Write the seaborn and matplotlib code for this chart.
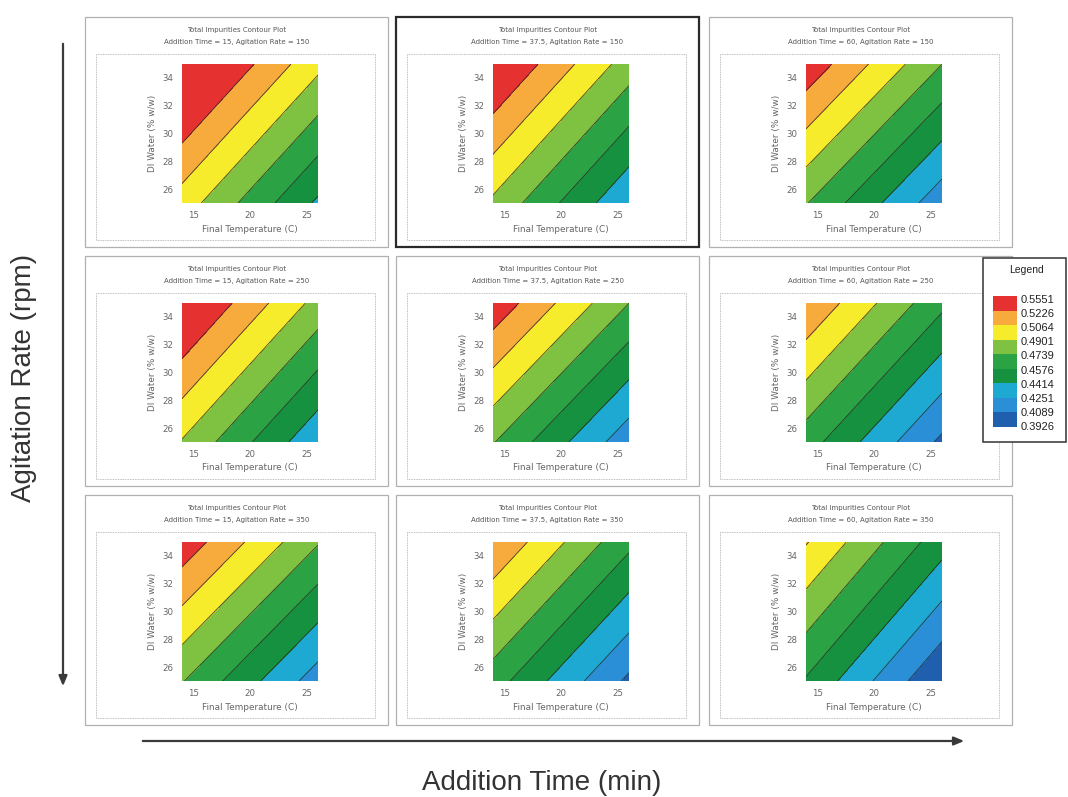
import numpy as np
import matplotlib
matplotlib.use("Agg")
import matplotlib.pyplot as plt
from matplotlib.patches import Rectangle, FancyArrowPatch
import seaborn as sns

# %% data
addition_time = ["15", "37.5", "60"]          # columns
agitation_rate = ["150", "250", "350"]        # rows
temp_edges = [14, 26]                          # Final Temperature (C)
water_edges = [25, 35]                         # DI Water (% w/w)

# predicted total impurities at the four plot corners, row by row
z_bottom_left = [0.4986, 0.4869, 0.4749, 0.4889, 0.4749, 0.4651, 0.4749, 0.4651, 0.4560]
z_bottom_right = [0.4386, 0.4269, 0.4149, 0.4284, 0.4149, 0.4054, 0.4170, 0.4055, 0.3932]
z_top_left = [0.5545, 0.5425, 0.5340, 0.5450, 0.5340, 0.5212, 0.5331, 0.5215, 0.5076]
z_top_right = [0.4945, 0.4825, 0.4740, 0.4845, 0.4740, 0.4615, 0.4752, 0.4619, 0.4485]

levels = [0.3926, 0.4089, 0.4251, 0.4414, 0.4576, 0.4739, 0.4901, 0.5064, 0.5226, 0.5551]
band_colors = ["#1f5fae", "#2a8fd6", "#1ea9d3", "#16913f", "#2ba243",
               "#7fc242", "#f7ec2c", "#f6ab3c", "#e5312f"]

x_ticks = [15, 20, 25]
y_ticks = [26, 28, 30, 32, 34]

# %% layout (pixels)
W, H = 1068, 797
plot_left = [182, 493, 806]
plot_top = [64, 303, 542]
plot_w, plot_h = 136, 139

sns.set_theme(style="white")
plt.rcParams["font.family"] = ["Liberation Sans", "DejaVu Sans"]
palette = sns.color_palette(band_colors)
small = ["DejaVu Sans"]

fig = plt.figure(figsize=(W / 100, H / 100), dpi=100)


def fx(x):
    return x / W


def fy(y):
    return 1 - y / H


def box(x0, y0, x1, y1, **kw):
    r = Rectangle((fx(x0), fy(y1)), (x1 - x0) / W, (y1 - y0) / H,
                  transform=fig.transFigure, **kw)
    fig.add_artist(r)
    return r


X, Y = np.meshgrid(temp_edges, water_edges)

for r in range(3):
    for c in range(3):
        k = r * 3 + c
        L, T = plot_left[c], plot_top[r]
        # outer panel frame
        if k == 1:
            box(L - 97, T - 47, L + 206, T + 183, fill=False, ec="#2a2a2a", lw=1.6)
        else:
            box(L - 97, T - 47, L + 206, T + 183, fill=False, ec="#b0b0b0", lw=0.9)
        # inner dotted frame
        box(L - 86, T - 10, L + 193, T + 176, fill=False, ec="#a8a8a8", lw=0.6, ls=(0, (1, 1)))

        cx = fx(L - 97 + 303 / 2)
        fig.text(cx, fy(T - 34), "Total Impurities Contour Plot", ha="center", va="center",
                 fontsize=5, color="#555555", family=small)
        fig.text(cx, fy(T - 22),
                 f"Addition Time = {addition_time[c]}, Agitation Rate = {agitation_rate[r]}",
                 ha="center", va="center", fontsize=5, color="#555555", family=small)

        ax = fig.add_axes([fx(L), fy(T + plot_h), plot_w / W, plot_h / H])
        Z = np.array([[z_bottom_left[k], z_bottom_right[k]],
                      [z_top_left[k], z_top_right[k]]])
        ax.contourf(X, Y, Z, levels=levels, colors=palette)
        ax.contour(X, Y, Z, levels=levels, colors="#262626", linewidths=0.6, alpha=0.85)
        ax.set_xlim(temp_edges)
        ax.set_ylim(water_edges)
        ax.set_xticks(x_ticks)
        ax.set_yticks(y_ticks)
        ax.tick_params(axis="both", labelsize=6.2, colors="#666666", length=2, width=0.5,
                       pad=4, direction="out")
        ax.tick_params(axis="x", length=0, pad=6)
        for lab in ax.get_xticklabels() + ax.get_yticklabels():
            lab.set_family(small)
        ax.set_xlabel("Final Temperature (C)", fontsize=6.4, color="#666666", labelpad=3,
                      family=small)
        ax.set_ylabel("DI Water (% w/w)", fontsize=6.4, color="#666666", labelpad=4,
                      family=small)
        for s in ax.spines.values():
            s.set_visible(False)

# %% legend
box(983, 258, 1066, 442, fc="white", ec="#333333", lw=1.1, zorder=5)
fig.text(fx(1026), fy(270), "Legend", ha="center", va="center", fontsize=7.5,
         color="#222222", zorder=6)
sw_top, sw_bot = 296, 427
step = (sw_bot - sw_top) / len(band_colors)
for i, col in enumerate(reversed(band_colors)):
    box(993, sw_top + i * step, 1017, sw_top + (i + 1) * step, fc=col, ec="none", zorder=6)
for i, lv in enumerate(reversed(levels)):
    fig.text(fx(1021), fy(sw_top + 4 + i * (sw_bot - sw_top - 4) / (len(levels) - 1)),
             f"{lv:.4f}", ha="left", va="center", fontsize=8, color="#222222", zorder=6)

# %% big arrows and labels
fig.add_artist(FancyArrowPatch((fx(63), fy(41)), (fx(63), fy(689)), transform=fig.transFigure,
                               arrowstyle="-|>,head_length=6,head_width=2.5", color="#3a3a3a", lw=1.6))
fig.add_artist(FancyArrowPatch((fx(140), fy(741)), (fx(967), fy(741)), transform=fig.transFigure,
                               arrowstyle="-|>,head_length=6,head_width=2.5", color="#3a3a3a", lw=1.6))
fig.text(fx(24), fy(378), "Agitation Rate (rpm)", rotation=90, ha="center", va="center",
         fontsize=20, color="#333333")
fig.text(fx(542), fy(783), "Addition Time (min)", ha="center", va="center",
         fontsize=20, color="#333333")

fig.savefig("out.png", dpi=100)
